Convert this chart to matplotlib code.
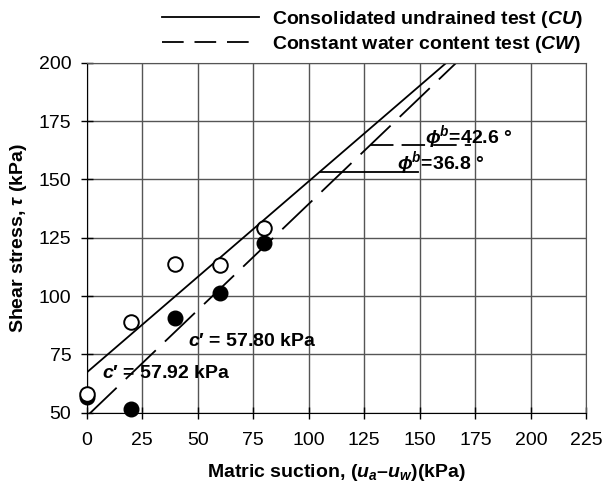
import numpy as np
import matplotlib
matplotlib.use("Agg")
import matplotlib.pyplot as plt
from matplotlib.lines import Line2D

plt.rcParams['font.family'] = ['Liberation Sans', 'DejaVu Sans']
plt.rcParams['mathtext.fontset'] = 'custom'
plt.rcParams['mathtext.rm'] = 'Liberation Sans'
plt.rcParams['mathtext.it'] = 'Liberation Sans:italic'
plt.rcParams['mathtext.bf'] = 'Liberation Sans:bold'
plt.rcParams['mathtext.bfit'] = 'Liberation Sans:bold:italic'

# measured points
suction = [0, 20, 40, 60, 80]
tau_cu = [58.2, 88.7, 113.6, 113.2, 129.0]
tau_cw = [56.8, 51.7, 90.6, 101.4, 122.9]

# fitted envelopes (intercept, slope)
fit_cu = (67.2, 0.82)
fit_cw = (48.4, 0.911)

# angle marker levels: (tau level, x end)
mark_cu = (153.3, 149.0)
mark_cw = (164.7, 173.0)

xticks = [0, 25, 50, 75, 100, 125, 150, 175, 200, 225]
yticks = [50, 75, 100, 125, 150, 175, 200]

LW = 1.3
dash_cw = (23, 7)
FS = 14

fig = plt.figure(figsize=(6.02, 4.86), dpi=100)
ax = fig.add_axes([0.1439, 0.1508, 0.8302, 0.720])

xx = np.array([0, 225])
ax.plot(xx, fit_cu[0] + fit_cu[1] * xx, color='black', lw=LW)
ax.plot(xx, fit_cw[0] + fit_cw[1] * xx, color='black', lw=LW, dashes=dash_cw)

# horizontal reference lines for phi^b
x0 = (mark_cu[0] - fit_cu[0]) / fit_cu[1]
ax.plot([x0, mark_cu[1]], [mark_cu[0]] * 2, color='black', lw=LW)
x0 = (mark_cw[0] - fit_cw[0]) / fit_cw[1]
ax.plot([x0, mark_cw[1]], [mark_cw[0]] * 2, color='black', lw=LW, dashes=(13, 4.5))

ax.plot(suction, tau_cw, 'o', color='black', ms=10.5, clip_on=False, zorder=4)
ax.plot(suction, tau_cu, 'o', mfc='white', mec='black', mew=1.4, ms=10.5,
        clip_on=False, zorder=5)

ax.text(45.6, 80.4, r"$\mathbfit{c}$′ = 57.80 kPa", fontsize=FS,
        fontweight='bold', va='center')
ax.text(6.8, 66.6, r"$\mathbfit{c}$′ = 57.92 kPa", fontsize=FS,
        fontweight='bold', va='center')
ax.text(152.3, 165.5, r"$\mathbfit{\phi}^{\mathbfit{b}}$=42.6 °",
        fontsize=FS, fontweight='bold', va='baseline')
ax.text(139.6, 154.5, r"$\mathbfit{\phi}^{\mathbfit{b}}$=36.8 °",
        fontsize=FS, fontweight='bold', va='baseline')

ax.set_xlim(0, 225)
ax.set_ylim(50, 200)
ax.set_xticks(xticks)
ax.set_yticks(yticks)
ax.tick_params(direction='inout', length=8, width=1, labelsize=14)
ax.tick_params(axis='x', pad=10)
ax.tick_params(axis='y', pad=7)
ax.grid(True, color='#555555', lw=1)
ax.set_axisbelow(True)
for s in ['top', 'right']:
    ax.spines[s].set_color('#555555')

ax.set_xlabel(r"Matric suction, ($\mathbfit{u_a}$–$\mathbfit{u_w}$)(kPa)",
              fontsize=FS, fontweight='bold', va='center')
ax.xaxis.set_label_coords(0.5, -0.172)
ax.set_ylabel(r"Shear stress, $\mathbfit{\tau}$ (kPa)", fontsize=FS,
              fontweight='bold', va='center')
ax.yaxis.set_label_coords(-0.137, 0.5)

handles = [Line2D([], [], color='black', lw=LW),
           Line2D([], [], color='black', lw=LW, dashes=(12, 6))]
labels = [r"Consolidated undrained test ($\mathbfit{CU}$)",
          r"Constant water content test ($\mathbfit{CW}$)"]
fig.legend(handles, labels, loc='upper right', bbox_to_anchor=(0.998, 1.018),
           frameon=False, handlelength=5.0, handletextpad=0.67,
           labelspacing=0.22, prop={'weight': 'bold', 'size': FS})

fig.savefig('out.png', dpi=100)
